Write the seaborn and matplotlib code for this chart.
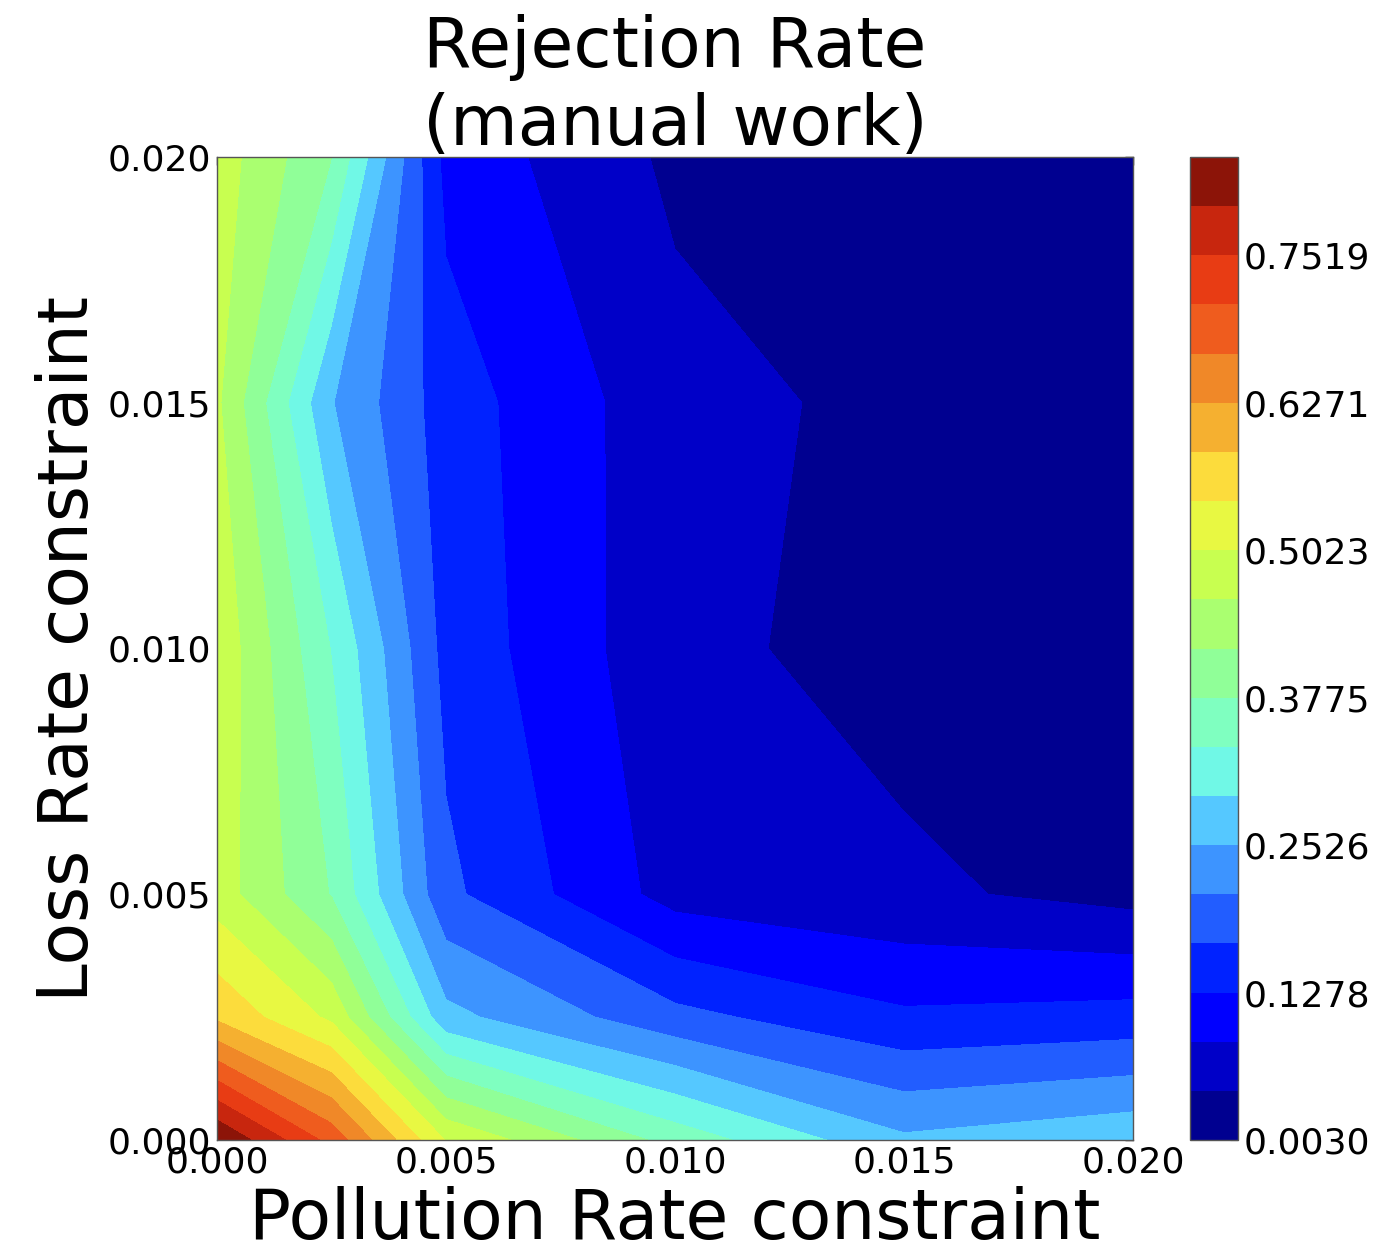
"""
Contour map of the rejection rate (manual work) over the pollution / loss
rate constraint grid.
"""
import numpy as np
import matplotlib
matplotlib.use("Agg")
import matplotlib.pyplot as plt
from matplotlib.colors import ListedColormap
import seaborn as sns

# grid of constraints
pollution = [0.0, 0.0025, 0.005, 0.01, 0.015, 0.02]
loss = [0.0, 0.0025, 0.005, 0.01, 0.015, 0.02]

# rejection rate, one row per loss rate constraint (left to right = pollution)
rate_loss_0000 = [0.83515, 0.696, 0.500, 0.361, 0.260, 0.285]
rate_loss_0025 = [0.578, 0.494, 0.265, 0.182, 0.135, 0.144]
rate_loss_0050 = [0.482, 0.375, 0.179, 0.070, 0.053, 0.030]
rate_loss_0100 = [0.493, 0.334, 0.155, 0.056, 0.028, 0.012]
rate_loss_0150 = [0.468, 0.255, 0.148, 0.059, 0.033, 0.015]
rate_loss_0200 = [0.483, 0.378, 0.114, 0.036, 0.015, 0.003]

axis_ticks = [0.0, 0.005, 0.01, 0.015, 0.02]
axis_ticklabels = ["0.000", "0.005", "0.010", "0.015", "0.020"]

# jet-like band colours, slightly washed out as in the original figure
band_colors = ["#000090", "#0000c8", "#0000ff", "#0022ff", "#225dff",
               "#3d94ff", "#55c8ff", "#70f8e6", "#7fffc0", "#90ff98",
               "#aaff70", "#c8ff50", "#e8f842", "#fcdc3c", "#f5b030",
               "#f08828", "#ef5c1e", "#e83c14", "#c8260e", "#8c1408"]

sns.set_style("white", {"xtick.direction": "in", "ytick.direction": "in",
                        "axes.edgecolor": "black"})
plt.rcParams["font.family"] = ["DejaVu Sans"]
plt.rcParams["text.color"] = "black"
plt.rcParams["axes.labelcolor"] = "black"
plt.rcParams["xtick.color"] = "black"
plt.rcParams["ytick.color"] = "black"

Z = np.array([rate_loss_0000, rate_loss_0025, rate_loss_0050,
              rate_loss_0100, rate_loss_0150, rate_loss_0200])
X, Y = np.meshgrid(pollution, loss)
levels = np.linspace(Z.min(), Z.max(), 21)
cmap = ListedColormap(band_colors)

fig = plt.figure(figsize=(13.84, 12.54), dpi=100)
ax = fig.add_axes([217 / 1384, 114 / 1254, 916 / 1384, 983 / 1254])
cax = fig.add_axes([1190 / 1384, 114 / 1254, 48 / 1384, 983 / 1254])

cs = ax.contourf(X, Y, Z, levels=levels, cmap=cmap)

ax.set_xlim(0, 0.02)
ax.set_ylim(0, 0.02)
ax.set_xticks(axis_ticks)
ax.set_xticklabels(axis_ticklabels)
ax.set_yticks(axis_ticks)
ax.set_yticklabels(axis_ticklabels)
ax.tick_params(axis="both", which="both", direction="in", length=6,
               width=1, labelsize=26, top=True, right=True, pad=4,
               colors="black")
for s in ax.spines.values():
    s.set_linewidth(1)
    s.set_color("#555555")

ax.set_title("Rejection Rate\n(manual work)", fontsize=50, pad=9)
ax.set_xlabel("Pollution Rate constraint", fontsize=50, labelpad=5)
ax.set_ylabel("Loss Rate constraint", fontsize=50, labelpad=4)

cbar = fig.colorbar(cs, cax=cax, ticks=levels[::3], format="%.4f")
cbar.ax.tick_params(labelsize=26, direction="in", length=6, pad=4,
                    colors="black")
cbar.outline.set_linewidth(1)
cbar.outline.set_edgecolor("#555555")

fig.savefig("out.png", dpi=100)
